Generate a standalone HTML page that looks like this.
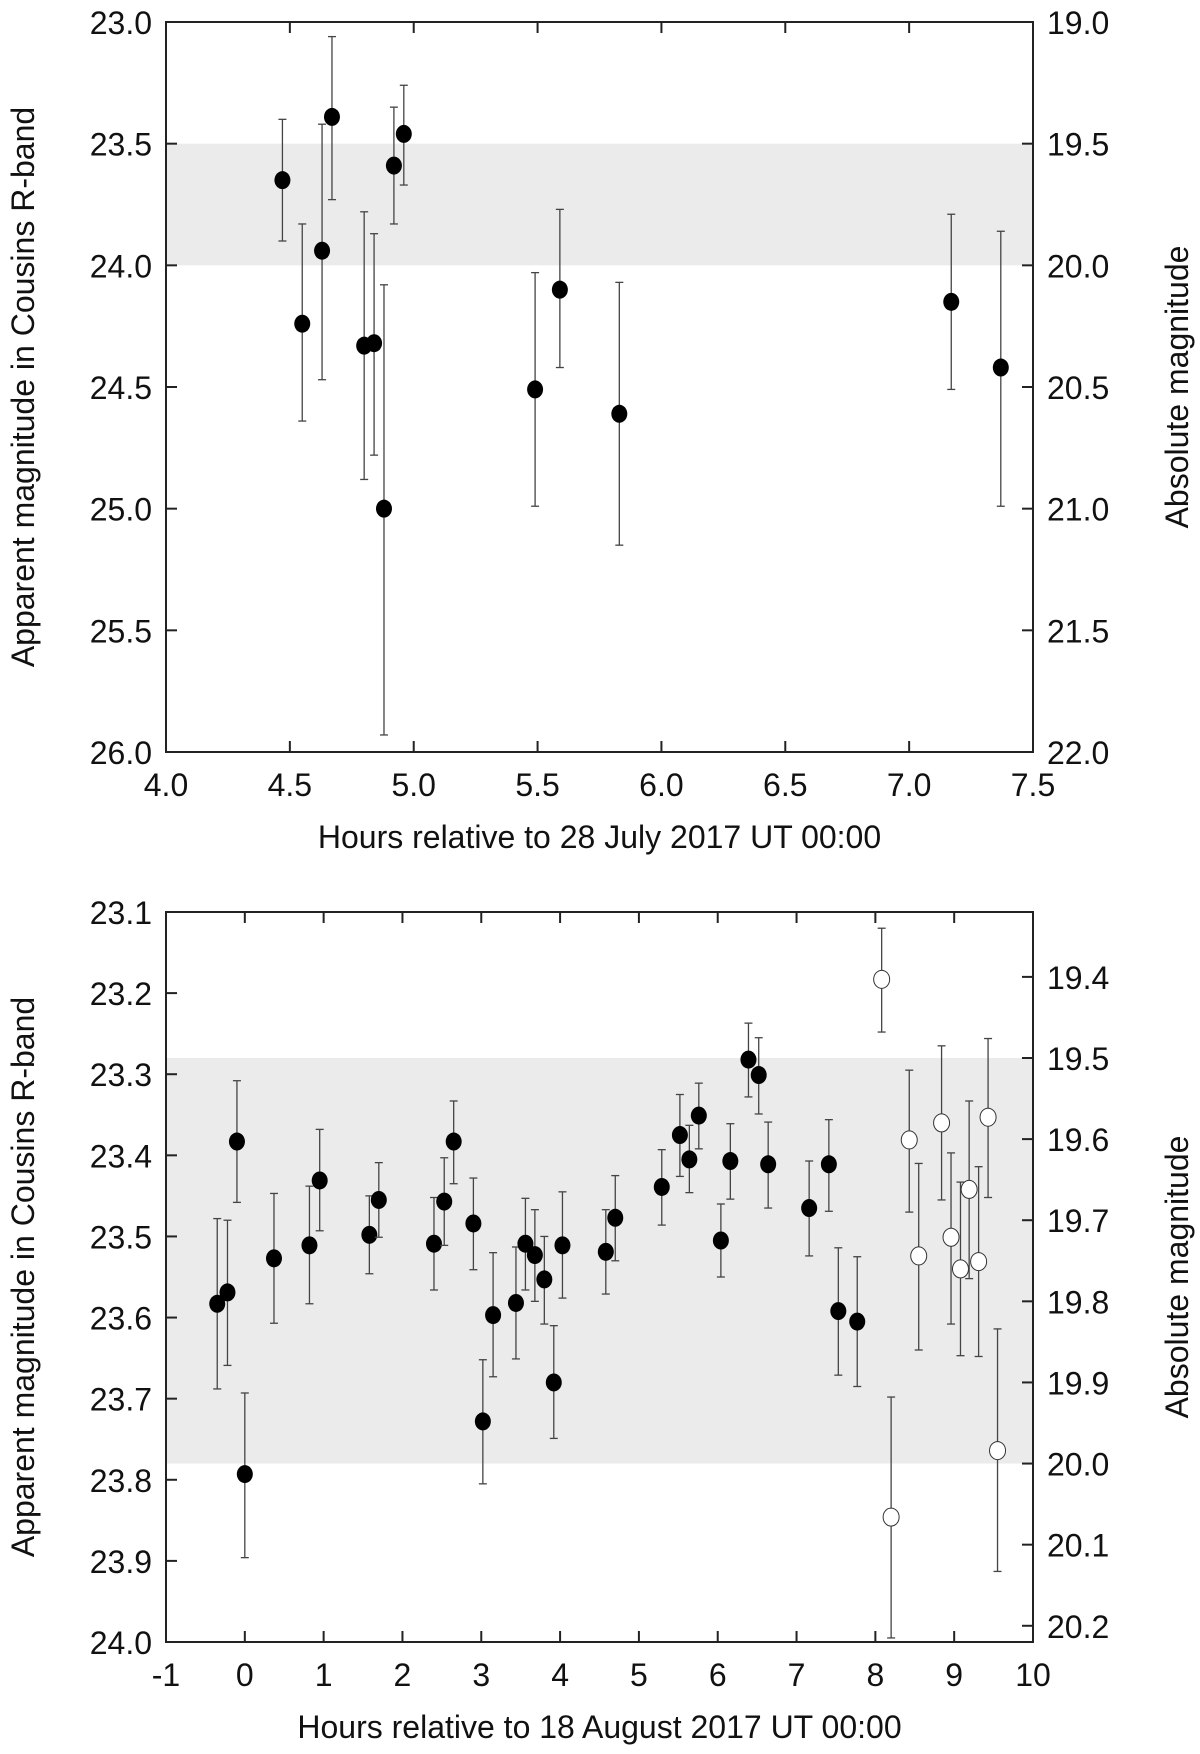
<!DOCTYPE html>
<html><head><meta charset="utf-8"><style>
html,body{margin:0;padding:0;background:#fff;}
svg{display:block;font-family:"Liberation Sans",sans-serif;}
</style></head><body>
<svg id="chart" width="1200" height="1754" viewBox="0 0 1200 1754" xmlns="http://www.w3.org/2000/svg"></svg>
<script>
// ---- Panel 1 data (28 July 2017) ----
const p1X = [4.47,4.55,4.63,4.67,4.80,4.84,4.88,4.92,4.96,5.49,5.59,5.83,7.17,7.37];
const p1Y = [23.65,24.24,23.94,23.39,24.33,24.32,25.00,23.59,23.46,24.51,24.10,24.61,24.15,24.42];
const p1Lo = [23.40,23.83,23.42,23.06,23.78,23.87,24.08,23.35,23.26,24.03,23.77,24.07,23.79,23.86];
const p1Hi = [23.90,24.64,24.47,23.73,24.88,24.78,25.93,23.83,23.67,24.99,24.42,25.15,24.51,24.99];
const p1XTicks = ["4.0","4.5","5.0","5.5","6.0","6.5","7.0","7.5"];
const p1YTicks = ["23.0","23.5","24.0","24.5","25.0","25.5","26.0"];
const p1Y2Ticks = ["19.0","19.5","20.0","20.5","21.0","21.5","22.0"];
const p1Band = [23.5,24.0];
// ---- Panel 2 data (18 August 2017) ----
const p2X = [-0.35,-0.22,-0.10,0.00,0.37,0.82,0.95,1.58,1.70,2.40,2.53,2.65,2.90,3.02,3.15,3.44,3.56,3.68,3.80,3.92,4.03,4.58,4.70,5.29,5.52,5.64,5.76,6.04,6.16,6.39,6.52,6.64,7.16,7.41,7.53,7.77];
const p2Y = [23.583,23.569,23.383,23.793,23.527,23.511,23.431,23.498,23.455,23.509,23.457,23.383,23.484,23.728,23.597,23.582,23.509,23.523,23.553,23.680,23.511,23.519,23.477,23.439,23.375,23.405,23.351,23.505,23.407,23.282,23.301,23.411,23.465,23.411,23.592,23.605];
const p2Lo = [23.478,23.480,23.308,23.693,23.447,23.438,23.368,23.450,23.409,23.452,23.403,23.333,23.428,23.652,23.520,23.513,23.453,23.467,23.500,23.610,23.445,23.467,23.425,23.393,23.325,23.363,23.311,23.460,23.361,23.237,23.255,23.359,23.407,23.356,23.514,23.525];
const p2Hi = [23.688,23.659,23.458,23.896,23.607,23.583,23.493,23.546,23.501,23.566,23.511,23.435,23.541,23.805,23.673,23.651,23.566,23.580,23.608,23.749,23.576,23.571,23.530,23.486,23.426,23.446,23.392,23.550,23.454,23.328,23.349,23.465,23.524,23.469,23.671,23.685];
const p2OX = [8.08,8.20,8.43,8.55,8.84,8.96,9.08,9.19,9.31,9.43,9.55];
const p2OY = [23.183,23.846,23.381,23.524,23.360,23.501,23.540,23.442,23.531,23.353,23.764];
const p2OLo = [23.120,23.698,23.295,23.410,23.265,23.397,23.433,23.333,23.414,23.256,23.614];
const p2OHi = [23.248,23.995,23.470,23.640,23.455,23.608,23.647,23.552,23.648,23.452,23.913];
const p2XTicks = ["-1","0","1","2","3","4","5","6","7","8","9","10"];
const p2YTicks = ["23.1","23.2","23.3","23.4","23.5","23.6","23.7","23.8","23.9","24.0"];
const p2Y2Ticks = ["19.4","19.5","19.6","19.7","19.8","19.9","20.0","20.1","20.2"];
const p2Band = [23.28,23.78];

const NS = "http://www.w3.org/2000/svg";
const svg = document.getElementById('chart');
function mk(tag, attrs, parent){
  const e = document.createElementNS(NS, tag);
  for (const k in attrs) e.setAttribute(k, attrs[k]);
  (parent||svg).appendChild(e);
  return e;
}
function panel(cfg){
  const L=166, R=1033, T=cfg.top, B=cfg.top+730;
  const g = mk('g',{});
  
  
  const sx = v => L + (v - cfg.xmin)/(cfg.xmax - cfg.xmin)*(R-L);
  const sy = v => T + (v - cfg.ymin)/(cfg.ymax - cfg.ymin)*(B-T);
  const band = mk('rect',{x:L,y:sy(cfg.band[0]),width:R-L,height:sy(cfg.band[1])-sy(cfg.band[0]),fill:'#ebebeb'},g);
  
  
  cfg.xticks.forEach(t=>{
    const x = sx(parseFloat(t));
    mk('line',{x1:x,x2:x,y1:B,y2:B-11,stroke:'#222','stroke-width':2},g);
    mk('line',{x1:x,x2:x,y1:T,y2:T+11,stroke:'#222','stroke-width':2},g);
    const tx = mk('text',{x:x,y:B+44,'font-size':32,'text-anchor':'middle',fill:'#111'},g);
    tx.textContent = t;
    
    
  });
  cfg.yticks.forEach(t=>{
    const y = sy(parseFloat(t));
    mk('line',{x1:L,x2:L+11,y1:y,y2:y,stroke:'#222','stroke-width':2},g);
    const tx = mk('text',{x:L-14,y:y+12,'font-size':32,'text-anchor':'end',fill:'#111'},g);
    tx.textContent = t;
    
    
  });
  cfg.y2ticks.forEach(t=>{
    const y = sy(parseFloat(t) + cfg.offset);
    mk('line',{x1:R,x2:R-11,y1:y,y2:y,stroke:'#222','stroke-width':2},g);
    const tx = mk('text',{x:R+14,y:y+12,'font-size':32,'text-anchor':'start',fill:'#111'},g);
    tx.textContent = t;
    
    
  });
  const frame = mk('rect',{x:L,y:T,width:R-L,height:B-T,fill:'none',stroke:'#222','stroke-width':2},g);
  
  
  function series(X,Y,Lo,Hi,open){
    for(let i=0;i<X.length;i++){
      const x=sx(X[i]);
      mk('line',{x1:x,x2:x,y1:sy(Lo[i]),y2:sy(Hi[i]),stroke:'#444','stroke-width':1.3},g);
      mk('line',{x1:x-4,x2:x+4,y1:sy(Lo[i]),y2:sy(Lo[i]),stroke:'#444','stroke-width':1.3},g);
      mk('line',{x1:x-4,x2:x+4,y1:sy(Hi[i]),y2:sy(Hi[i]),stroke:'#444','stroke-width':1.3},g);
      const m = mk('ellipse',{cx:x,cy:sy(Y[i]),rx:8,ry:9,fill:open?'#fff':'#000',stroke:open?'#333':'none','stroke-width':1},g);
      
      
    }
  }
  series(cfg.X,cfg.Y,cfg.Lo,cfg.Hi,false);
  if(cfg.OX) series(cfg.OX,cfg.OY,cfg.OLo,cfg.OHi,true);
  const xt = mk('text',{x:(L+R)/2,y:B+96,'font-size':32,'text-anchor':'middle',fill:'#111'},g);
  xt.textContent = cfg.xtitle;
  
  
  const yt = mk('text',{x:0,y:0,'font-size':32,'text-anchor':'middle',fill:'#111',transform:`translate(34,${(T+B)/2}) rotate(-90)`},g);
  yt.textContent = 'Apparent magnitude in Cousins R-band';
  
  
  const y2 = mk('text',{x:0,y:0,'font-size':32,'text-anchor':'middle',fill:'#111',transform:`translate(1188,${(T+B)/2}) rotate(-90)`},g);
  y2.textContent = 'Absolute magnitude';
  
  
}
panel({name:'panel-july', top:22, xmin:4.0, xmax:7.5, ymin:23.0, ymax:26.0, offset:4.0,
  band:p1Band, xticks:p1XTicks, yticks:p1YTicks, y2ticks:p1Y2Ticks,
  X:p1X, Y:p1Y, Lo:p1Lo, Hi:p1Hi, xtitle:'Hours relative to 28 July 2017 UT 00:00'});
panel({name:'panel-august', top:912, xmin:-1, xmax:10, ymin:23.1, ymax:24.0, offset:3.78,
  band:p2Band, xticks:p2XTicks, yticks:p2YTicks, y2ticks:p2Y2Ticks,
  X:p2X, Y:p2Y, Lo:p2Lo, Hi:p2Hi, OX:p2OX, OY:p2OY, OLo:p2OLo, OHi:p2OHi,
  xtitle:'Hours relative to 18 August 2017 UT 00:00'});
</script>
</body></html>
